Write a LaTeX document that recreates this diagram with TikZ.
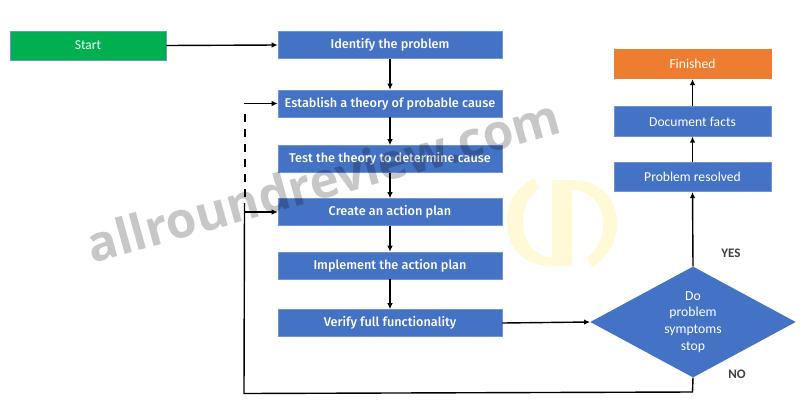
\documentclass[tikz,border=0pt]{standalone}
\usepackage{fontspec}
\setmainfont{Carlito}
\newfontfamily\boxfont{Fira Sans}[UprightFont=* Medium]
\newfontfamily\markfont{Open Sans}
\usetikzlibrary{arrows.meta,shapes.geometric}
\definecolor{boxblue}{HTML}{4472C4}
\definecolor{boxedge}{HTML}{6F93D6}
\definecolor{startgreen}{HTML}{00B050}
\definecolor{endorange}{HTML}{ED7D31}
\definecolor{logoyellow}{HTML}{FFF9D8}
\definecolor{labelgrey}{HTML}{404040}
\tikzset{
  x=1pt,y=-1pt,
  flowbox/.style={draw=boxedge,line width=0.6pt,fill=boxblue,text=white,minimum width=224pt,minimum height=27pt,inner sep=0pt,font=\boxfont\fontsize{12.7pt}{14pt}\selectfont},
  sidebox/.style={draw=boxedge,line width=0.6pt,fill=boxblue,text=white,minimum width=157pt,minimum height=29.5pt,inner sep=0pt,font=\fontsize{13.6pt}{15pt}\selectfont},
  decision/.style={diamond,aspect=1.85,fill=boxblue,text=white,inner sep=0pt,minimum width=205.5pt,minimum height=111pt,align=center,font=\fontsize{13.7pt}{16.7pt}\selectfont},
  arrowline/.style={draw=black,line width=1.4pt,-{Latex[length=6pt,width=5.5pt]}},
  plainline/.style={draw=black,line width=1.4pt},
  sidelabel/.style={text=labelgrey,font=\bfseries\fontsize{13pt}{14pt}\selectfont,inner sep=0pt}
}
\begin{document}
\begin{tikzpicture}
\useasboundingbox (0,0) rectangle (810,418);
\fill[white] (0,0) rectangle (810,418);
% logo
\fill[logoyellow] (534,179) .. controls (516,186) and (507,203) .. (507,222) .. controls (507,248) and (524,266) .. (552,266) -- (552,257) .. controls (535,257) and (523,243) .. (523,222) .. controls (523,207) and (529,196) .. (539,188) -- cycle;
\fill[logoyellow] (552,180) -- (572,180) .. controls (600,180) and (617,198) .. (617,224) .. controls (617,243) and (606,258) .. (592,268) -- (587,257) .. controls (598,250) and (603,238) .. (603,224) .. controls (603,205) and (590,190) .. (572,190) -- (572,266) -- (552,266) -- cycle;
% nodes
\node[draw=boxedge,line width=0.6pt,fill=startgreen,text=white,minimum width=156pt,minimum height=29pt,inner sep=0pt,font=\fontsize{13.6pt}{15pt}\selectfont] (start) at (88,45.5) {Start};
\node[flowbox] (identify) at (390,45) {Identify the problem};
\node[flowbox] (theory) at (390,103.5) {Establish a theory of probable cause};
\node[flowbox] (test) at (390,159) {Test the theory to determine cause};
\node[flowbox] (plan) at (390,212) {Create an action plan};
\node[flowbox] (impl) at (390,265.5) {Implement the action plan};
\node[flowbox] (verify) at (390,323) {Verify full functionality};
\node[decision] (stop) at (693,322) {Do\\problem\\symptoms\\stop};
\node[sidebox] (resolved) at (692.5,177) {Problem resolved};
\node[sidebox] (facts) at (692.5,121.5) {Document facts};
\node[sidebox,fill=endorange,draw=endorange] (finished) at (692.5,64) {Finished};
\node[sidelabel] (yes) at (731,253.5) {YES};
\node[sidelabel] (no) at (737,374) {NO};
\coordinate (corner) at (692.5,392);
\coordinate (lowleft) at (244,393.5);
\coordinate (solidtop) at (244.5,203);
\coordinate (planin) at (244.5,212);
\coordinate (dashlow) at (245,197);
\coordinate (dashtop) at (245,110);
\coordinate (theoryin) at (244,103.5);
% connectors
\draw[arrowline] (start.east) -- (identify.west);
\draw[arrowline] (identify) -- (theory);
\draw[arrowline] (theory) -- (test);
\draw[arrowline] (test) -- (plan);
\draw[arrowline] (plan) -- (impl);
\draw[arrowline] (impl) -- (verify);
\draw[arrowline] (verify.east) -- (stop.west);
\draw[arrowline] (stop.north) -- (resolved.south);
\draw[arrowline] (resolved) -- (facts);
\draw[arrowline] (facts) -- (finished);
\draw[plainline] (stop.south) -- (corner) -- (lowleft) -- (solidtop);
\draw[arrowline] (planin) -- (plan.west);
\draw[plainline,line width=1.9pt,dash pattern=on 8.5pt off 6.5pt] (dashlow) -- (dashtop);
\draw[arrowline] (theoryin) -- (theory.west);
% watermark
\node[rotate=15.5,anchor=base,text=black,text opacity=0.22,font=\markfont\bfseries\fontsize{49.5pt}{60pt}\selectfont,inner sep=0pt] (mark) at (328,198) {allroundreview.com};
\end{tikzpicture}
\end{document}
